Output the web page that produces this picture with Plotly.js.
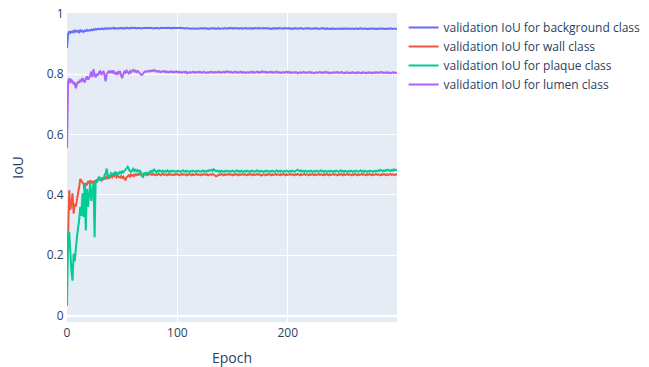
<!DOCTYPE html>
<html>
<head>
<meta charset="utf-8">
<script src="https://cdn.plot.ly/plotly-3.0.1.min.js"></script>
<style>html,body{margin:0;padding:0;background:#fff;}#chart{width:649px;height:367px;}</style>
</head>
<body>
<div id="chart"></div>
<script>
const seriesNames = [
  "validation IoU for background class",
  "validation IoU for wall class",
  "validation IoU for plaque class",
  "validation IoU for lumen class"
];

const background = [
0.886,0.932,0.941,0.936,0.940,0.938,0.943,0.939,0.944,0.940,
0.942,0.938,0.945,0.941,0.943,0.939,0.944,0.942,0.946,0.943,
0.945,0.944,0.947,0.945,0.948,0.946,0.949,0.947,0.950,0.948,
0.950,0.949,0.951,0.948,0.950,0.952,0.949,0.951,0.950,0.952,
0.950,0.951,0.953,0.950,0.952,0.951,0.950,0.952,0.951,0.953,
0.951,0.950,0.952,0.951,0.953,0.952,0.950,0.951,0.953,0.952,
0.951,0.952,0.953,0.951,0.952,0.953,0.952,0.951,0.952,0.953,
0.952,0.953,0.952,0.951,0.952,0.953,0.952,0.953,0.952,0.951,
0.952,0.953,0.952,0.951,0.952,0.952,0.953,0.952,0.951,0.952,
0.953,0.952,0.951,0.952,0.952,0.951,0.953,0.952,0.951,0.952,
0.952,0.951,0.952,0.953,0.952,0.951,0.952,0.951,0.952,0.951,
0.952,0.951,0.950,0.951,0.952,0.951,0.950,0.951,0.952,0.951,
0.950,0.951,0.952,0.950,0.951,0.952,0.950,0.951,0.949,0.951,
0.950,0.951,0.952,0.950,0.951,0.949,0.951,0.952,0.950,0.951,
0.952,0.951,0.950,0.952,0.951,0.950,0.952,0.951,0.953,0.951,
0.950,0.952,0.951,0.950,0.951,0.952,0.950,0.951,0.952,0.950,
0.951,0.950,0.952,0.951,0.950,0.951,0.952,0.950,0.951,0.950,
0.952,0.951,0.950,0.951,0.952,0.951,0.950,0.951,0.952,0.951,
0.950,0.951,0.952,0.950,0.951,0.949,0.951,0.950,0.952,0.950,
0.951,0.950,0.952,0.951,0.950,0.951,0.950,0.952,0.951,0.950,
0.951,0.952,0.950,0.951,0.949,0.951,0.950,0.952,0.950,0.951,
0.950,0.951,0.952,0.950,0.949,0.951,0.950,0.951,0.952,0.950,
0.951,0.950,0.949,0.951,0.950,0.952,0.950,0.951,0.949,0.950,
0.951,0.950,0.952,0.950,0.949,0.951,0.950,0.951,0.950,0.949,
0.951,0.950,0.951,0.949,0.950,0.951,0.950,0.949,0.951,0.950,
0.949,0.951,0.950,0.949,0.950,0.951,0.949,0.950,0.951,0.950,
0.949,0.950,0.951,0.949,0.950,0.949,0.951,0.950,0.949,0.950,
0.951,0.949,0.950,0.949,0.951,0.950,0.949,0.950,0.951,0.949,
0.950,0.949,0.951,0.950,0.949,0.950,0.951,0.949,0.950,0.949,
0.951,0.950,0.949,0.950,0.951,0.949,0.950,0.951,0.950,0.950
];

const wall = [
0.172,0.260,0.415,0.350,0.372,0.405,0.338,0.370,0.362,0.390,
0.405,0.425,0.452,0.447,0.440,0.435,0.415,0.438,0.432,0.445,
0.440,0.448,0.438,0.445,0.436,0.447,0.442,0.451,0.446,0.455,
0.450,0.456,0.449,0.453,0.458,0.452,0.460,0.455,0.462,0.457,
0.463,0.459,0.470,0.462,0.466,0.458,0.463,0.460,0.457,0.462,
0.456,0.460,0.452,0.448,0.458,0.462,0.465,0.460,0.467,0.463,
0.466,0.462,0.468,0.465,0.469,0.466,0.470,0.467,0.465,0.468,
0.466,0.469,0.467,0.465,0.468,0.470,0.467,0.466,0.469,0.467,
0.465,0.468,0.466,0.469,0.467,0.465,0.468,0.470,0.466,0.468,
0.467,0.465,0.469,0.466,0.468,0.467,0.465,0.468,0.466,0.469,
0.467,0.468,0.465,0.467,0.469,0.466,0.468,0.467,0.465,0.468,
0.466,0.469,0.467,0.465,0.468,0.466,0.467,0.469,0.466,0.468,
0.467,0.465,0.468,0.466,0.469,0.467,0.466,0.468,0.465,0.467,
0.468,0.466,0.469,0.467,0.465,0.461,0.463,0.467,0.468,0.466,
0.469,0.467,0.465,0.468,0.466,0.467,0.469,0.466,0.468,0.467,
0.465,0.468,0.466,0.469,0.467,0.465,0.468,0.466,0.467,0.469,
0.466,0.468,0.467,0.465,0.468,0.466,0.469,0.467,0.465,0.468,
0.466,0.467,0.469,0.466,0.468,0.467,0.464,0.466,0.468,0.467,
0.465,0.468,0.466,0.469,0.467,0.465,0.468,0.466,0.467,0.469,
0.466,0.468,0.467,0.465,0.468,0.466,0.469,0.467,0.465,0.468,
0.466,0.467,0.469,0.466,0.468,0.467,0.465,0.468,0.466,0.469,
0.467,0.465,0.468,0.466,0.467,0.469,0.466,0.468,0.467,0.465,
0.468,0.466,0.469,0.467,0.465,0.468,0.466,0.467,0.469,0.466,
0.468,0.467,0.465,0.468,0.466,0.469,0.467,0.465,0.468,0.466,
0.467,0.469,0.466,0.468,0.467,0.465,0.468,0.466,0.469,0.467,
0.465,0.468,0.466,0.467,0.469,0.466,0.468,0.467,0.465,0.468,
0.466,0.469,0.467,0.465,0.468,0.466,0.467,0.469,0.466,0.468,
0.467,0.465,0.468,0.466,0.469,0.467,0.465,0.468,0.466,0.467,
0.469,0.466,0.468,0.467,0.465,0.468,0.466,0.469,0.467,0.465,
0.468,0.466,0.467,0.469,0.466,0.468,0.467,0.465,0.468,0.467
];

const plaque = [
0.033,0.265,0.277,0.190,0.150,0.116,0.205,0.180,0.230,0.260,
0.290,0.315,0.360,0.330,0.405,0.327,0.440,0.282,0.420,0.360,
0.400,0.440,0.380,0.405,0.440,0.260,0.449,0.440,0.455,0.460,
0.452,0.448,0.458,0.450,0.465,0.471,0.487,0.462,0.455,0.468,
0.472,0.470,0.466,0.474,0.475,0.468,0.472,0.470,0.476,0.472,
0.478,0.474,0.480,0.484,0.488,0.493,0.482,0.478,0.476,0.481,
0.486,0.479,0.483,0.478,0.482,0.477,0.480,0.475,0.461,0.459,
0.474,0.466,0.473,0.470,0.472,0.476,0.479,0.474,0.481,0.484,
0.478,0.476,0.480,0.477,0.481,0.478,0.476,0.480,0.477,0.479,
0.476,0.481,0.478,0.476,0.479,0.477,0.480,0.478,0.476,0.479,
0.477,0.480,0.478,0.476,0.479,0.481,0.477,0.479,0.476,0.480,
0.478,0.476,0.479,0.477,0.480,0.478,0.476,0.479,0.477,0.480,
0.478,0.476,0.479,0.481,0.477,0.479,0.476,0.480,0.478,0.482,
0.480,0.483,0.479,0.485,0.481,0.478,0.480,0.477,0.479,0.476,
0.480,0.478,0.476,0.479,0.477,0.480,0.478,0.476,0.479,0.477,
0.480,0.478,0.476,0.479,0.481,0.477,0.479,0.476,0.480,0.478,
0.476,0.479,0.477,0.480,0.478,0.476,0.479,0.477,0.480,0.478,
0.476,0.479,0.481,0.477,0.479,0.476,0.480,0.478,0.476,0.479,
0.477,0.480,0.478,0.476,0.479,0.477,0.480,0.478,0.476,0.479,
0.481,0.477,0.479,0.476,0.480,0.478,0.476,0.479,0.477,0.480,
0.478,0.476,0.479,0.477,0.480,0.478,0.476,0.479,0.481,0.483,
0.480,0.478,0.481,0.477,0.479,0.476,0.480,0.478,0.476,0.479,
0.477,0.480,0.478,0.476,0.479,0.477,0.480,0.478,0.476,0.479,
0.481,0.477,0.479,0.476,0.480,0.478,0.476,0.479,0.477,0.480,
0.478,0.476,0.479,0.477,0.480,0.478,0.476,0.479,0.481,0.477,
0.479,0.476,0.480,0.478,0.476,0.479,0.477,0.480,0.478,0.476,
0.479,0.477,0.480,0.478,0.476,0.479,0.481,0.477,0.479,0.476,
0.480,0.478,0.476,0.479,0.477,0.480,0.478,0.476,0.479,0.477,
0.480,0.478,0.481,0.479,0.483,0.480,0.478,0.481,0.479,0.482,
0.480,0.483,0.481,0.479,0.482,0.480,0.484,0.481,0.483,0.482
];

const lumen = [
0.555,0.775,0.786,0.770,0.780,0.776,0.768,0.772,0.753,0.768,
0.776,0.770,0.782,0.774,0.787,0.779,0.772,0.784,0.792,0.781,
0.786,0.796,0.808,0.790,0.816,0.798,0.789,0.801,0.795,0.806,
0.809,0.798,0.804,0.810,0.796,0.776,0.800,0.807,0.811,0.803,
0.809,0.805,0.812,0.800,0.806,0.797,0.808,0.803,0.810,0.795,
0.786,0.800,0.808,0.804,0.811,0.806,0.802,0.809,0.805,0.812,
0.814,0.808,0.811,0.806,0.810,0.807,0.801,0.798,0.797,0.803,
0.806,0.809,0.807,0.810,0.808,0.811,0.809,0.812,0.810,0.813,
0.811,0.808,0.810,0.807,0.809,0.806,0.808,0.810,0.807,0.809,
0.806,0.808,0.805,0.807,0.809,0.806,0.808,0.805,0.807,0.809,
0.806,0.808,0.805,0.807,0.804,0.806,0.808,0.805,0.807,0.802,
0.805,0.807,0.804,0.806,0.808,0.805,0.807,0.804,0.806,0.808,
0.805,0.807,0.804,0.806,0.808,0.805,0.803,0.806,0.804,0.807,
0.805,0.808,0.806,0.804,0.807,0.805,0.806,0.808,0.805,0.807,
0.804,0.806,0.808,0.805,0.807,0.809,0.806,0.808,0.805,0.807,
0.804,0.806,0.808,0.805,0.807,0.804,0.806,0.808,0.805,0.807,
0.804,0.806,0.803,0.805,0.807,0.804,0.806,0.808,0.805,0.807,
0.804,0.806,0.808,0.805,0.807,0.804,0.806,0.809,0.806,0.808,
0.805,0.807,0.804,0.806,0.808,0.805,0.807,0.804,0.806,0.808,
0.805,0.807,0.804,0.806,0.803,0.805,0.807,0.804,0.806,0.808,
0.805,0.807,0.804,0.806,0.803,0.805,0.807,0.804,0.806,0.802,
0.804,0.806,0.803,0.805,0.807,0.804,0.806,0.803,0.805,0.807,
0.804,0.806,0.803,0.805,0.802,0.804,0.806,0.803,0.805,0.807,
0.804,0.806,0.803,0.805,0.807,0.804,0.806,0.803,0.805,0.802,
0.804,0.806,0.803,0.805,0.807,0.804,0.806,0.803,0.805,0.807,
0.804,0.802,0.805,0.803,0.806,0.804,0.802,0.805,0.803,0.806,
0.804,0.802,0.805,0.803,0.806,0.804,0.802,0.805,0.803,0.806,
0.804,0.802,0.805,0.803,0.806,0.804,0.802,0.805,0.803,0.806,
0.804,0.806,0.803,0.805,0.807,0.804,0.806,0.803,0.805,0.804,
0.806,0.803,0.805,0.802,0.804,0.806,0.803,0.805,0.804,0.803
];

const epochs = background.map((_, i) => i);
const colors = ["#636efa", "#EF553B", "#00cc96", "#ab63fa"];
const values = [background, wall, plaque, lumen];

const traces = values.map((v, k) => ({
  type: "scatter",
  mode: "lines",
  x: epochs,
  y: v,
  name: seriesNames[k],
  line: { color: colors[k], width: 2 }
}));

const layout = {
  width: 649,
  height: 367,
  margin: { l: 67, r: 252, t: 13, b: 45, pad: 0, autoexpand: false },
  paper_bgcolor: "#ffffff",
  plot_bgcolor: "#E5ECF6",
  font: { family: '"Open Sans", verdana, arial, sans-serif', size: 12, color: "#2a3f5f" },
  showlegend: true,
  legend: { x: 1.02, y: 1, xanchor: "left", yanchor: "top", font: { size: 12, color: "#2a3f5f" } },
  xaxis: {
    title: { text: "Epoch", standoff: 13 },
    range: [0, 299],
    tickvals: [0, 100, 200],
    gridcolor: "#ffffff",
    zerolinecolor: "#ffffff",
    zerolinewidth: 2,
    linecolor: "#ffffff",
    ticks: "",
    automargin: false
  },
  yaxis: {
    title: { text: "IoU", standoff: 19 },
    range: [-0.021, 1.002],
    dtick: 0.2,
    tick0: 0,
    gridcolor: "#ffffff",
    zerolinecolor: "#ffffff",
    zerolinewidth: 2,
    linecolor: "#ffffff",
    ticks: "",
    automargin: false
  }
};

Plotly.newPlot("chart", traces, layout, { displayModeBar: false, staticPlot: true });
</script>
</body>
</html>
